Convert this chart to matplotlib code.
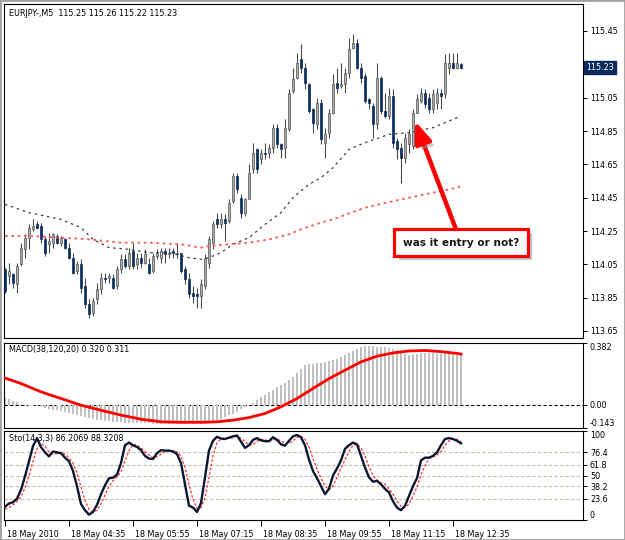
import matplotlib
matplotlib.use("Agg")
import matplotlib.pyplot as plt
import matplotlib.patheffects as pe
import matplotlib.transforms as mtransforms
from matplotlib.patches import Rectangle
import numpy as np

# ── Data: EURJPY M5, 18 May 2010 ────────────────────────────────────────────
opens = [
    114.02, 113.98, 113.99, 113.93, 114.05, 114.14, 114.21, 114.26, 114.29, 114.28,
    114.20, 114.17, 114.18, 114.22, 114.18, 114.20, 114.15, 114.09, 114.01, 114.05,
    113.92, 113.81, 113.76, 113.84, 113.90, 113.97, 113.97, 113.97, 113.92, 114.02,
    114.08, 114.04, 114.13, 114.05, 114.09, 114.06, 114.05, 114.01, 114.10, 114.09,
    114.13, 114.11, 114.13, 114.11, 114.12, 114.02, 113.96, 113.88, 113.87, 113.86,
    113.92, 114.06, 114.18, 114.32, 114.29, 114.32, 114.31, 114.43, 114.58, 114.45,
    114.36, 114.44, 114.62, 114.74, 114.68, 114.72, 114.72, 114.75, 114.87, 114.77,
    114.75, 114.86, 115.09, 115.17, 115.28, 115.23, 115.13, 114.98, 114.89, 115.02,
    114.78, 114.84, 114.96, 115.14, 115.12, 115.13, 115.20, 115.35, 115.38, 115.23,
    115.18, 115.04, 115.00, 114.89, 115.17, 114.97, 114.94, 115.06, 114.79, 114.75,
    114.69, 114.77, 114.76, 114.96, 115.03, 115.08, 115.05, 114.98, 115.02, 115.08,
    115.07, 115.23, 115.26, 115.23, 115.25]
highs = [
    114.03, 114.06, 114.00, 114.06, 114.18, 114.23, 114.29, 114.32, 114.31, 114.30,
    114.22, 114.24, 114.24, 114.23, 114.22, 114.21, 114.18, 114.12, 114.07, 114.08,
    113.97, 113.84, 113.85, 113.94, 114.00, 114.00, 114.00, 113.99, 114.04, 114.11,
    114.11, 114.15, 114.18, 114.12, 114.12, 114.14, 114.09, 114.12, 114.14, 114.15,
    114.15, 114.15, 114.15, 114.17, 114.12, 114.04, 114.00, 113.92, 113.91, 113.96,
    114.11, 114.22, 114.31, 114.36, 114.36, 114.35, 114.44, 114.60, 114.60, 114.47,
    114.45, 114.65, 114.78, 114.75, 114.74, 114.78, 114.77, 114.89, 114.89, 114.78,
    114.92, 115.10, 115.23, 115.32, 115.37, 115.26, 115.14, 114.99, 115.05, 115.04,
    114.87, 114.98, 115.19, 115.23, 115.26, 115.23, 115.41, 115.43, 115.40, 115.26,
    115.20, 115.05, 115.02, 115.26, 115.18, 115.08, 115.11, 115.10, 114.81, 114.78,
    114.84, 114.86, 114.98, 115.07, 115.11, 115.10, 115.08, 115.10, 115.11, 115.10,
    115.31, 115.32, 115.32, 115.32, 115.26]
lows = [
    113.88, 113.93, 113.91, 113.88, 114.04, 114.09, 114.14, 114.25, 114.26, 114.18,
    114.10, 114.12, 114.15, 114.17, 114.16, 114.14, 114.08, 113.99, 113.99, 113.88,
    113.79, 113.73, 113.74, 113.81, 113.87, 113.94, 113.94, 113.90, 113.90, 114.00,
    114.03, 114.02, 114.02, 114.02, 114.03, 114.05, 113.99, 114.00, 114.08, 114.06,
    114.06, 114.09, 114.09, 114.09, 114.00, 113.93, 113.85, 113.82, 113.79, 113.79,
    113.90, 114.03, 114.14, 114.27, 114.27, 114.19, 114.30, 114.42, 114.48, 114.33,
    114.34, 114.44, 114.60, 114.60, 114.65, 114.68, 114.69, 114.72, 114.75, 114.69,
    114.69, 114.85, 115.08, 115.16, 115.20, 115.10, 114.96, 114.84, 114.86, 114.77,
    114.69, 114.81, 114.95, 115.08, 115.11, 115.08, 115.17, 115.34, 115.22, 115.14,
    115.02, 114.98, 114.81, 114.86, 114.95, 114.93, 114.92, 114.75, 114.68, 114.54,
    114.66, 114.72, 114.74, 114.96, 115.02, 114.99, 114.96, 114.96, 114.98, 114.98,
    115.05, 115.19, 115.22, 115.22, 115.22]
closes = [
    113.89, 114.01, 113.94, 114.04, 114.15, 114.21, 114.27, 114.28, 114.27, 114.20,
    114.12, 114.19, 114.23, 114.18, 114.21, 114.15, 114.09, 114.00, 114.05, 113.91,
    113.81, 113.75, 113.83, 113.90, 113.97, 113.96, 113.98, 113.91, 114.02, 114.08,
    114.04, 114.12, 114.04, 114.09, 114.06, 114.11, 114.00, 114.10, 114.12, 114.13,
    114.11, 114.12, 114.12, 114.12, 114.01, 113.96, 113.87, 113.86, 113.86, 113.93,
    114.09, 114.20, 114.29, 114.29, 114.32, 114.30, 114.42, 114.58, 114.50, 114.36,
    114.44, 114.60, 114.72, 114.62, 114.72, 114.71, 114.75, 114.87, 114.77, 114.74,
    114.87, 115.08, 115.16, 115.26, 115.23, 115.14, 114.97, 114.90, 115.02, 114.80,
    114.83, 114.96, 115.13, 115.11, 115.13, 115.20, 115.34, 115.38, 115.23, 115.17,
    115.03, 115.02, 114.89, 115.17, 114.97, 114.94, 115.06, 114.78, 114.74, 114.69,
    114.81, 114.83, 114.96, 115.04, 115.08, 115.01, 114.98, 115.07, 115.08, 115.06,
    115.26, 115.26, 115.23, 115.26, 115.23]

# moving averages (bar index, price)
ma_grey_bars = [0, 6, 14, 19, 22, 26, 31, 36, 41, 46, 49, 51, 54, 57, 61, 65, 69,
                72, 76, 79, 82, 86, 90, 96, 101, 107, 113, 114]
ma_grey = [114.41, 114.36, 114.32, 114.27, 114.20, 114.15, 114.14, 114.12, 114.12,
           114.09, 114.08, 114.09, 114.12, 114.17, 114.21, 114.29, 114.36, 114.45,
           114.53, 114.57, 114.63, 114.74, 114.78, 114.83, 114.84, 114.87, 114.93, 114.94]
ma_red_bars = [0, 6, 14, 21, 29, 36, 44, 49, 51, 56, 61, 66, 71, 74, 79, 82, 90,
               99, 107, 113, 114]
ma_red = [114.22, 114.22, 114.21, 114.20, 114.18, 114.18, 114.17, 114.15, 114.16,
          114.17, 114.18, 114.20, 114.23, 114.26, 114.30, 114.32, 114.39, 114.44,
          114.48, 114.51, 114.52]

# MACD(38,120,20)
macd_hist = [
    0.040, 0.034, 0.025, 0.015, 0.006, -0.002, -0.006, -0.008, -0.010, -0.013,
    -0.018, -0.024, -0.030, -0.035, -0.040, -0.046, -0.052, -0.058, -0.064, -0.070,
    -0.076, -0.081, -0.086, -0.091, -0.095, -0.098, -0.101, -0.104, -0.107, -0.109,
    -0.111, -0.112, -0.113, -0.114, -0.115, -0.115, -0.115, -0.116, -0.116, -0.116,
    -0.116, -0.116, -0.116, -0.116, -0.117, -0.117, -0.118, -0.119, -0.120, -0.120,
    -0.118, -0.112, -0.104, -0.095, -0.086, -0.076, -0.066, -0.055, -0.042, -0.028,
    -0.014, -0.002, 0.012, 0.028, 0.045, 0.062, 0.079, 0.093, 0.107, 0.120,
    0.135, 0.152, 0.170, 0.195, 0.222, 0.242, 0.248, 0.252, 0.254, 0.256,
    0.262, 0.270, 0.277, 0.283, 0.295, 0.307, 0.318, 0.332, 0.345, 0.355,
    0.360, 0.362, 0.360, 0.357, 0.355, 0.353, 0.350, 0.342, 0.333, 0.324,
    0.313, 0.306, 0.310, 0.313, 0.315, 0.316, 0.316, 0.315, 0.314, 0.314,
    0.315, 0.317, 0.318, 0.319, 0.320]
macd_sig_bars = [0, 4, 9, 14, 19, 24, 29, 34, 39, 44, 49, 53, 57, 61, 65, 69, 73,
                 77, 81, 85, 89, 93, 97, 101, 105, 109, 113, 114]
macd_signal = [0.164, 0.130, 0.079, 0.038, -0.003, -0.034, -0.064, -0.089, -0.105,
               -0.108, -0.108, -0.105, -0.095, -0.079, -0.054, -0.013, 0.038, 0.100,
               0.160, 0.212, 0.263, 0.298, 0.318, 0.330, 0.333, 0.326, 0.315, 0.311]

# Stochastic(14,3,3)
sto_main = [
    15, 18.5, 20, 24, 34, 49, 66, 83, 92, 82,
    76, 71.5, 77, 76, 75, 70, 66, 55, 38, 18,
    11, 6, 9, 17, 29, 39, 47, 47.5, 51, 64,
    84, 87, 84, 82, 78.5, 72, 69, 68.5, 75, 78.5,
    78, 78, 77, 74, 64, 40, 16, 14, 9, 19,
    48, 78, 89, 93.5, 91.5, 91, 92.5, 94, 95, 88,
    81, 84, 90, 92, 89.5, 88.5, 88.5, 93, 90, 85,
    83.5, 89, 94, 95.5, 93, 84, 68, 55, 47, 38,
    29, 35, 50, 58, 67, 80, 84, 87, 85, 72,
    59, 48, 43, 44, 40, 35, 31, 21, 14, 11,
    16, 27, 38, 47, 67, 70, 70, 72, 76, 84,
    91, 92, 91, 89, 86.2069]
sto_signal = [
    12, 14, 17, 21, 26, 36, 50, 66, 80, 86,
    83, 76, 74, 74.5, 76, 74, 70, 64, 53, 37,
    22, 12, 9, 11, 18, 28, 38, 44, 48.5, 54,
    66, 78, 85, 84, 81, 77, 73, 70, 71, 74,
    77, 78, 78, 76.5, 72, 59, 40, 23, 13, 14,
    25, 48, 72, 87, 91, 92, 91.5, 92.5, 94, 92,
    88, 84, 85, 88.5, 90.5, 90, 89, 90, 90.5, 89,
    86, 86, 89, 93, 94, 91, 82, 69, 57, 47,
    38, 34, 38, 48, 58, 68, 77, 84, 85, 81,
    72, 60, 50, 45, 42, 40, 35, 29, 22, 15,
    14, 18, 27, 37, 51, 61, 69, 71, 73, 77,
    84, 89, 91, 90.5, 88.3208]
sto_levels = [23.6, 38.2, 50, 61.8, 76.4]

price_ticks = [113.65, 113.85, 114.05, 114.25, 114.45, 114.65, 114.85, 115.05, 115.45]
time_ticks = [0, 16, 32, 48, 64, 80, 96, 112]
time_labels = ["18 May 2010", "18 May 04:35", "18 May 05:55", "18 May 07:15",
               "18 May 08:35", "18 May 09:55", "18 May 11:15", "18 May 12:35"]

# ── Style ───────────────────────────────────────────────────────────────────
BG = "#ffffff"
NAVY = "#0b2b5e"
BULL = "#acacac"
BULL_EDGE = "#555555"
WICK = "#4a4a4a"
FS = 5.8
plt.rcParams["font.family"] = ["DejaVu Sans"]
plt.rcParams["font.size"] = FS

W, H = 625, 540
fig = plt.figure(figsize=(W / 100, H / 100), dpi=100)
fig.patch.set_facecolor(BG)


def px_axes(left, top, right, bottom):
    return fig.add_axes([left / W, 1 - bottom / H, (right - left) / W, (bottom - top) / H])


ax = px_axes(4, 4, 583, 338)
ax_m = px_axes(4, 342.5, 583, 428)
ax_s = px_axes(4, 431, 583, 520)

for a in (ax, ax_m, ax_s):
    a.set_facecolor(BG)
    a.set_xlim(-0.25, 144.5)
    for sp in a.spines.values():
        sp.set_edgecolor("black")
        sp.set_linewidth(0.8)
    a.yaxis.tick_right()
    a.tick_params(axis="y", direction="out", length=3, width=0.7, pad=2,
                  labelsize=FS, colors="black")
    a.set_xticks([])

# ── Main price panel ────────────────────────────────────────────────────────
x = np.arange(len(opens))
o, h, l, c = (np.array(v) for v in (opens, highs, lows, closes))
up = c >= o
body_low = np.minimum(o, c)
body_h = np.maximum(np.abs(c - o), 0.005)

ax.vlines(x, l, h, color=WICK, lw=0.8, zorder=2)
ax.bar(x[up], body_h[up], bottom=body_low[up], width=0.64, color=BULL,
       edgecolor=BULL_EDGE, linewidth=0.5, zorder=3)
ax.bar(x[~up], body_h[~up], bottom=body_low[~up], width=0.64, color=NAVY,
       edgecolor=NAVY, linewidth=0.5, zorder=3)

ax.plot(ma_grey_bars, ma_grey, color="#3c3c3c", lw=0.9, ls=(0, (2, 3)), zorder=4)
ax.plot(ma_red_bars, ma_red, color="#ff5c5c", lw=1.3, ls=(0, (1.5, 2)), zorder=4)

ax.set_ylim(113.608, 115.612)
ax.set_yticks(price_ticks)
ax.set_yticklabels([f"{v:.2f}" for v in price_ticks])

ax.text(0.009, 0.973,
        f"EURJPY-,M5  {opens[-1]:.2f} {highs[-1]:.2f} {lows[-1]:.2f} {closes[-1]:.2f}",
        transform=ax.transAxes, ha="left", va="center", fontsize=FS)

trans = mtransforms.blended_transform_factory(ax.transAxes, ax.transData)
ax.text(1.006, closes[-1], f"{closes[-1]:.2f}", transform=trans, ha="left",
        va="center", color="white", fontsize=FS, clip_on=False,
        bbox=dict(boxstyle="square,pad=0.25", fc=NAVY, ec=NAVY))

ann = ax.annotate("was it entry or not?", xy=(102.5, 114.91), xytext=(114, 114.18),
                  xycoords="data", textcoords="data", ha="center", va="center",
                  fontsize=7.6, fontweight="bold", color="#1a1a1a", zorder=6,
                  bbox=dict(boxstyle="square,pad=0.8", fc="white", ec="#ff0000", lw=2.3),
                  arrowprops=dict(arrowstyle="-|>,head_length=1.7,head_width=0.65",
                                  color="#ff0000", lw=3.2, shrinkA=0, shrinkB=0))
ann.get_bbox_patch().set_path_effects(
    [pe.SimplePatchShadow(offset=(3, -3), shadow_rgbFace="#888888", alpha=0.5), pe.Normal()])
ann.arrow_patch.set_path_effects(
    [pe.SimplePatchShadow(offset=(3, -3), shadow_rgbFace="#888888", alpha=0.5), pe.Normal()])

# ── MACD panel ─────────────────────────────────────────────────────────────
ax_m.bar(x, macd_hist, width=0.55, color="#c0c0c0", zorder=2)
ax_m.plot(macd_sig_bars, macd_signal, color="#ff0000", lw=2.0, zorder=3)
ax_m.axhline(0, color="black", lw=0.8, ls=(0, (3, 2)), zorder=1)
ax_m.set_ylim(-0.143, 0.382)
ax_m.set_yticks([-0.143, 0.0, 0.382])
ax_m.set_yticklabels(["-0.143", "0.00", "0.382"])
lbls = ax_m.get_yticklabels()
lbls[0].set_va("bottom")
lbls[2].set_va("top")
ax_m.text(0.009, 0.92, f"MACD(38,120,20) {macd_hist[-1]:.3f} {macd_signal[-1]:.3f}",
          transform=ax_m.transAxes, ha="left", va="center", fontsize=FS)

# ── Stochastic panel ───────────────────────────────────────────────────────
for lv in sto_levels:
    ax_s.axhline(lv, color="#c8bfa8", lw=0.8, ls=(0, (3, 2)), zorder=1)
ax_s.plot(x, sto_signal, color="#ff2a2a", lw=0.9, ls=(0, (2, 1.5)), zorder=2)
ax_s.plot(x, sto_main, color="#0a1733", lw=1.7, zorder=3)
ax_s.set_ylim(0, 100)
s_ticks = [0] + sto_levels + [100]
ax_s.set_yticks(s_ticks)
ax_s.set_yticklabels([f"{v:g}" for v in s_ticks])
lbls = ax_s.get_yticklabels()
lbls[0].set_va("bottom")
lbls[-1].set_va("top")
ax_s.text(0.009, 0.92, f"Sto(14,3,3) {sto_main[-1]:.4f} {sto_signal[-1]:.4f}",
          transform=ax_s.transAxes, ha="left", va="center", fontsize=FS)

ax_s.set_xticks(time_ticks)
ax_s.set_xticklabels(time_labels)
ax_s.tick_params(axis="x", direction="out", length=4, width=0.7, pad=3,
                 labelsize=FS, colors="black")
shift = mtransforms.ScaledTranslation(2 / 100, 0, fig.dpi_scale_trans)
for t in ax_s.get_xticklabels():
    t.set_ha("left")
    t.set_transform(t.get_transform() + shift)

# window frame
fig.add_artist(Rectangle((0, 0), 1, 1, transform=fig.transFigure, fill=False,
                         ec="#a0a0a0", lw=2))

fig.savefig("out.png", dpi=100, facecolor=BG)
